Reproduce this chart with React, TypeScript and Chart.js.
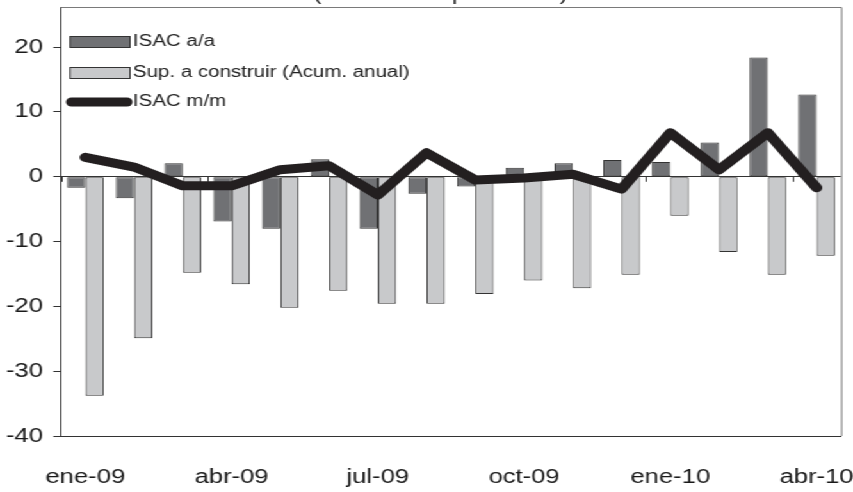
import React, { useEffect, useRef } from "react";
import { Chart, registerables } from "chart.js";

Chart.register(...registerables);

const categories = [
  "ene-09", "feb-09", "mar-09", "abr-09", "may-09", "jun-09", "jul-09", "ago-09",
  "sep-09", "oct-09", "nov-09", "dic-09", "ene-10", "feb-10", "mar-10", "abr-10",
];
const isacAA = [-1.7, -3.3, 2.1, -6.9, -8.0, 2.7, -8.0, -2.6, -1.5, 1.4, 2.1, 2.6, 2.3, 5.3, 18.4, 12.7];
const supConstruir = [-33.8, -24.9, -14.8, -16.6, -20.2, -17.6, -19.6, -19.6, -18.1, -16.0, -17.2, -15.1, -6.0, -11.6, -15.1, -12.2];
const isacMM = [3.0, 1.5, -1.4, -1.4, 1.1, 1.7, -2.8, 3.7, -0.5, -0.2, 0.4, -1.9, 6.8, 1.1, 6.8, -1.7];
const yTicks = [-40, -30, -20, -10, 0, 10, 20];
const titleText = "(en variación porcentual)";
const legendLabels = ["ISAC a/a", "Sup. a construir (Acum. anual)", "ISAC m/m"];

const W = 666;
const H = 492;
const SX = 853 / W;
const FONT = "'Liberation Sans', Arial, sans-serif";
const DARK = "#707174";
const LIGHT = "#c8c9cb";
const LINE = "#231f20";

const zeroPad = (s: any) => {
  s.paddingTop = 0;
  s.paddingBottom = 0;
  s.paddingLeft = 0;
  s.paddingRight = 0;
};

export default function App() {
  const ref = useRef<HTMLCanvasElement | null>(null);
  useEffect(() => {
    const canvas = ref.current;
    if (!canvas) return;
    const extras = {
      id: "extras",
      beforeDatasetsDraw(chart: any) {
        const { ctx, chartArea } = chart;
        const y = chart.scales.y;
        ctx.save();
        ctx.strokeStyle = "#7a7a7a";
        ctx.lineWidth = 1;
        ctx.beginPath();
        ctx.moveTo(chartArea.left, chartArea.top + 0.5);
        ctx.lineTo(chartArea.right + 0.5, chartArea.top + 0.5);
        ctx.lineTo(chartArea.right + 0.5, chartArea.bottom);
        ctx.stroke();
        const y0 = y.getPixelForValue(0);
        const cw = (chartArea.right - chartArea.left) / categories.length;
        ctx.strokeStyle = "#333";
        ctx.beginPath();
        for (let i = 0; i < categories.length; i += 3) {
          const px = Math.round(chartArea.left + i * cw) + 0.5;
          ctx.moveTo(px, y0);
          ctx.lineTo(px, y0 + 5);
        }
        ctx.stroke();
        ctx.restore();
      },
      afterDraw(chart: any) {
        const { ctx } = chart;
        ctx.save();
        ctx.fillStyle = "#222";
        ctx.font = `18px ${FONT}`;
        ctx.textAlign = "center";
        ctx.textBaseline = "alphabetic";
        ctx.fillText(titleText, 344, -0.5);
        const bx0 = 54.7;
        const bx1 = 101.5;
        ctx.lineWidth = 1;
        ctx.strokeStyle = "#333";
        ctx.fillStyle = DARK;
        ctx.fillRect(bx0, 36, bx1 - bx0, 11);
        ctx.strokeRect(bx0, 36.5, bx1 - bx0, 11);
        ctx.fillStyle = LIGHT;
        ctx.fillRect(bx0, 67, bx1 - bx0, 11);
        ctx.strokeRect(bx0, 67.5, bx1 - bx0, 11);
        ctx.strokeStyle = LINE;
        ctx.lineWidth = 9;
        ctx.lineCap = "round";
        ctx.beginPath();
        ctx.moveTo(56, 102);
        ctx.lineTo(99, 102);
        ctx.stroke();
        ctx.fillStyle = "#222";
        ctx.font = `16px ${FONT}`;
        ctx.textAlign = "left";
        ctx.textBaseline = "middle";
        ctx.fillText(legendLabels[0], 103.8, 42);
        ctx.fillText(legendLabels[1], 103.8, 73);
        ctx.fillText(legendLabels[2], 103.8, 102);
        ctx.restore();
      },
    };
    const chart = new Chart(canvas, {
      type: "bar",
      data: {
        labels: categories,
        datasets: [
          {
            type: "line",
            label: legendLabels[2],
            data: isacMM,
            borderColor: LINE,
            backgroundColor: LINE,
            borderWidth: 9,
            pointRadius: 0,
            tension: 0,
            borderCapStyle: "round",
            borderJoinStyle: "round",
            order: 0,
          } as any,
          {
            label: legendLabels[0],
            data: isacAA,
            backgroundColor: DARK,
            borderColor: "#333",
            borderWidth: 1,
            borderSkipped: false,
            categoryPercentage: 0.75,
            barPercentage: 1.0,
            order: 1,
          },
          {
            label: legendLabels[1],
            data: supConstruir,
            backgroundColor: LIGHT,
            borderColor: "#333",
            borderWidth: 1,
            borderSkipped: false,
            categoryPercentage: 0.75,
            barPercentage: 1.0,
            order: 2,
          },
        ],
      },
      options: {
        animation: false,
        responsive: false,
        layout: { padding: { left: 0, right: 9.4, top: 7, bottom: 0 } },
        plugins: {
          legend: { display: false },
          tooltip: { enabled: false },
          title: { display: false },
        },
        scales: {
          x: {
            grid: { display: false, drawTicks: false },
            border: { display: true, color: "#333", width: 1 },
            ticks: {
              autoSkip: false,
              maxRotation: 0,
              minRotation: 0,
              padding: 29,
              color: "#1a1a1a",
              font: { family: FONT, size: 20 },
              callback: (_v: any, i: number) => (i % 3 === 0 ? categories[i] : ""),
            },
            afterFit: (s: any) => {
              s.height = 56;
              zeroPad(s);
            },
          },
          y: {
            min: -40,
            max: 26.2,
            afterBuildTicks: (s: any) => {
              s.ticks = yTicks.map((v) => ({ value: v }));
            },
            grid: {
              drawOnChartArea: true,
              drawTicks: true,
              tickLength: 6,
              tickColor: "#333",
              color: (c: any) => (c.tick && c.tick.value === 0 ? "#333" : "rgba(0,0,0,0)"),
            },
            border: { display: true, color: "#333", width: 1 },
            ticks: {
              padding: 8,
              color: "#1a1a1a",
              font: { family: FONT, size: 20 },
            },
            afterFit: (s: any) => {
              s.width = 47.6;
              zeroPad(s);
            },
          },
        },
      },
      plugins: [extras],
    });
    return () => chart.destroy();
  }, []);
  return (
    <div
      style={{
        position: "fixed",
        left: 0,
        top: 0,
        width: W,
        height: H,
        transform: `scaleX(${SX})`,
        transformOrigin: "0 0",
        background: "#fff",
      }}
    >
      <canvas ref={ref} width={W} height={H} style={{ display: "block" }} />
    </div>
  );
}
